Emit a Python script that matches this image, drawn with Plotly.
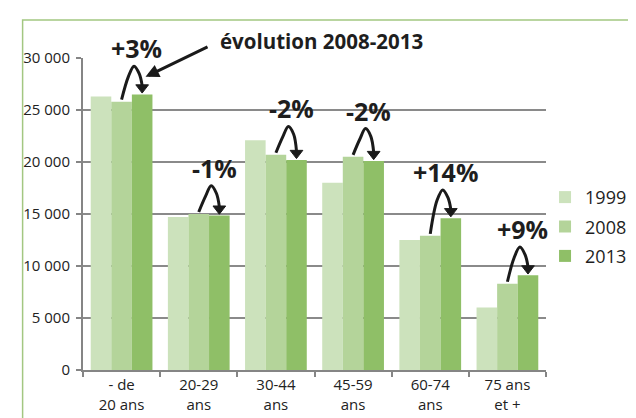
import plotly.graph_objects as go

categories = ["- de<br>20 ans", "20-29<br>ans", "30-44<br>ans", "45-59<br>ans", "60-74<br>ans", "75 ans<br>et +"]
years = ["1999", "2008", "2013"]
v1999 = [26300, 14700, 22100, 18000, 12500, 6000]
v2008 = [25800, 15000, 20700, 20500, 12900, 8300]
v2013 = [26500, 14850, 20200, 20100, 14600, 9100]
evolution = ["+3%", "-1%", "-2%", "-2%", "+14%", "+9%"]
colors = ["#cce2bc", "#b4d49a", "#8fbf67"]

FONT = "Open Sans"
YMAX = 30000
# plot area geometry (px)
L, R, T, B = 75, 78, 50, 48
W, H = 636, 418
pw, ph = W - L - R, H - T - B
n = len(categories)
cat_px = pw / n
bar_w = 0.8 / 3  # category units

def dy(px):
    return px * YMAX / ph

def dx(px):
    return px / cat_px

fig = go.Figure()
xs = list(range(n))
for k, (name, vals) in enumerate(zip(years, [v1999, v2008, v2013])):
    fig.add_trace(go.Bar(
        x=xs, y=vals, name=name, marker=dict(color=colors[k], line=dict(width=0)),
        legendgroup=name, hoverinfo="skip"))

# hooks from 2008 to 2013
for i in range(n):
    a, b = v2008[i], v2013[i]
    peak = max(a, b) + dy(29)
    hx = [i + dx(0), i + dx(7), i + dx(13), i + dx(18.5), i + bar_w]
    hy = [a + dy(2), peak - dy(11), peak, peak - dy(8), b + dy(9)]
    fig.add_trace(go.Scatter(x=hx, y=hy, mode="lines",
                             line=dict(color="#1a1a1a", width=3, shape="spline", smoothing=1),
                             showlegend=False, hoverinfo="skip"))
    fig.add_trace(go.Scatter(x=[i + bar_w], y=[b + dy(7)], mode="markers",
                             marker=dict(symbol="triangle-down", size=11, color="#1a1a1a",
                                         line=dict(color="#1a1a1a", width=1)),
                             showlegend=False, hoverinfo="skip"))
    fig.add_annotation(x=i + dx(16), y=peak, yshift=18, text="<b>%s</b>" % evolution[i],
                       showarrow=False, font=dict(family=FONT, size=25, color="#1e1e1e"))

# "évolution 2008-2013" callout pointing at the first hook
hx0, hy0 = 0 + bar_w + dx(3.5), v2013[0] + dy(18)
fig.add_annotation(x=hx0, y=hy0, text=" ", showarrow=True, arrowhead=2, arrowsize=0.9,
                   arrowwidth=3, arrowcolor="#1a1a1a", ax=64, ay=-31,
                   font=dict(family=FONT, size=4))
fig.add_annotation(x=hx0, y=hy0, xshift=72, yshift=36, xanchor="left", yanchor="middle",
                   text="<b>évolution 2008-2013</b>", showarrow=False,
                   font=dict(family=FONT, size=20.5, color="#1e1e1e"))

# green frame
fig.add_shape(type="rect", xref="paper", yref="paper",
              x0=(12 - L) / pw, x1=(645 - L) / pw,
              y0=(H - B - 430) / ph, y1=(H - B - 11) / ph,
              line=dict(color="#a3c781", width=1.5), fillcolor="rgba(0,0,0,0)", layer="below")

fig.update_layout(
    width=W, height=H,
    margin=dict(l=L, r=R, t=T, b=B),
    plot_bgcolor="white", paper_bgcolor="white",
    barmode="group", bargap=0.2, bargroupgap=0,
    separators=". ",
    font=dict(family=FONT, size=15, color="#222222"),
    legend=dict(x=(557 - L) / pw, xanchor="left", y=(H - B - 174) / ph, yanchor="top",
                font=dict(family=FONT, size=18, color="#1e1e1e"),
                tracegroupgap=3, bgcolor="rgba(0,0,0,0)"),
    xaxis=dict(range=[-0.5, n - 0.5], tickmode="array", tickvals=xs, ticktext=categories,
               ticks="", showgrid=False, zeroline=False,
               showline=True, linecolor="#858585", linewidth=2,
               minor=dict(tickmode="linear", tick0=-0.5, dtick=1, ticks="outside",
                          ticklen=5, tickwidth=2, tickcolor="#858585", showgrid=False),
               tickfont=dict(family=FONT, size=15, color="#222222")),
    yaxis=dict(range=[0, YMAX], dtick=5000, tickformat=",d", ticks="outside", ticklen=5,
               tickwidth=2, tickcolor="#858585", showline=True, linecolor="#858585", linewidth=2,
               showgrid=True, gridcolor="#8a8a8a", gridwidth=1.5, zeroline=False,
               ticklabelstandoff=3,
               tickfont=dict(family=FONT, size=15, color="#222222")),
)

fig.write_html("out.html")
